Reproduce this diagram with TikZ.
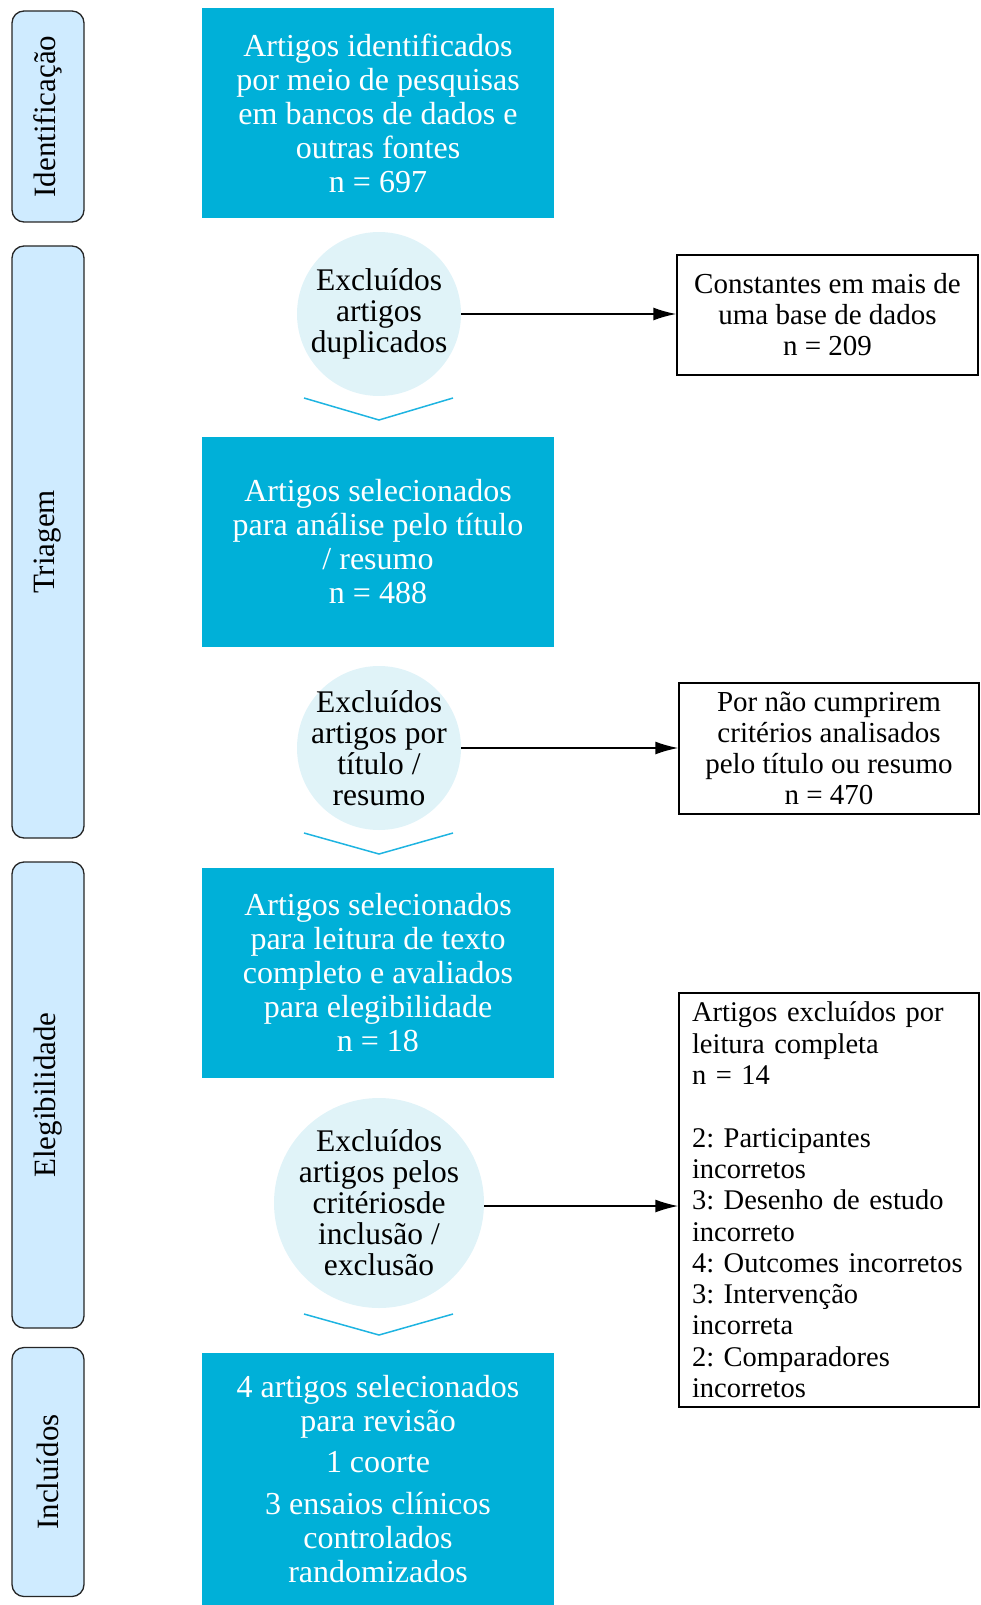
\documentclass[tikz,border=0pt]{standalone}
\usepackage{fontspec}
\setmainfont{Liberation Serif}
\usetikzlibrary{arrows.meta}
\definecolor{mainblue}{RGB}{0,176,216}
\definecolor{circfill}{RGB}{224,243,248}
\definecolor{sidefill}{RGB}{207,235,255}
\definecolor{chevcol}{RGB}{30,180,225}
\frenchspacing
\begin{document}
\begin{tikzpicture}[x=1pt,y=-1pt,
  mainbox/.style={fill=mainblue, text=white, minimum width=352pt, minimum height=210pt,
    align=center, font=\fontsize{32}{34}\selectfont, inner sep=0pt},
  exclcirc/.style={circle, fill=circfill, align=center, font=\fontsize{31.5}{31}\selectfont, inner sep=-40pt},
  sidebox/.style={draw=black!85, line width=1.3pt, fill=sidefill, rounded corners=12pt,
    minimum height=72pt, rotate=90, font=\fontsize{31}{34}\selectfont, inner sep=0pt},
  rightbox/.style={draw=black, line width=1.5pt, fill=white, minimum width=300pt,
    font=\fontsize{29}{31}\selectfont, inner sep=0pt},
  chevron/.style={draw=chevcol, line width=1.5pt},
  arr/.style={draw=black, line width=1.5pt, -{Latex[length=23pt,width=13pt]}}
]
\useasboundingbox (0,0) rectangle (980,1605);

% side labels
\node[sidebox, minimum width=211pt] (sid) at (48,116.5) {Identificação};
\node[sidebox, minimum width=592pt] (str) at (48,542) {Triagem};
\node[sidebox, minimum width=466pt] (sel) at (48,1095) {Elegibilidade};
\node[sidebox, minimum width=249pt] (sinc) at (48,1472) {Incluídos};

% main boxes
\node[mainbox] (b1) at (378,113) {Artigos identificados\\por meio de pesquisas\\em bancos de dados e\\outras fontes\\n = 697};
\node[mainbox] (b2) at (378,542) {Artigos selecionados\\para análise pelo título\\/ resumo\\n = 488};
\node[mainbox] (b3) at (378,973) {Artigos selecionados\\para leitura de texto\\completo e avaliados\\para elegibilidade\\n = 18};
\node[mainbox, minimum height=252pt] (b4) at (378,1479) {4 artigos selecionados\\para revisão\\[7pt]1 coorte\\[8pt]3 ensaios clínicos\\controlados\\randomizados};

% exclusion circles
\node[exclcirc, minimum size=164pt] (c1) at (379,314) {Excluídos\\artigos\\duplicados};
\node[exclcirc, minimum size=164pt] (c2) at (379,748) {Excluídos\\artigos por\\título /\\resumo};
\node[exclcirc, minimum size=210pt] (c3) at (379,1203) {Excluídos\\artigos pelos\\critériosde\\inclusão /\\exclusão};

% chevrons
\draw[chevron] (304,398) -- (379,420) -- (453,398);
\draw[chevron] (304,833) -- (379,854) -- (453,833);
\draw[chevron] (304,1314) -- (379,1335) -- (453,1314);

% right boxes
\node[rightbox, minimum width=301pt, minimum height=120pt, align=center] (rA) at (827.5,315) {Constantes em mais de\\uma base de dados\\n = 209};
\node[rightbox, minimum height=131pt, align=center] (rB) at (829,748.5) {Por não cumprirem\\critérios analisados\\pelo título ou resumo\\n = 470};
\node[rightbox, minimum height=414pt, text width=300pt, align=left, inner xsep=0pt,
  font=\fontsize{28.5}{31.3}\selectfont] (rC) at (829,1200) {\hspace*{13pt}\parbox[c]{285pt}{\raggedright\hyphenpenalty=10000 Artigos excluídos por\\leitura completa\\n = 14\\~\\2: Participantes\\incorretos\\3: Desenho de estudo\\incorreto\\4: Outcomes incorretos\\3: Intervenção\\incorreta\\2: Comparadores\\incorretos}};

% arrows
\draw[arr] (c1.east) -- (c1.east -| rA.west);
\draw[arr] (c2.east) -- (c2.east -| rB.west);
\draw[arr] ([yshift=-3pt]c3.east) -- ([yshift=-3pt]c3.east -| rC.west);
\end{tikzpicture}
\end{document}
